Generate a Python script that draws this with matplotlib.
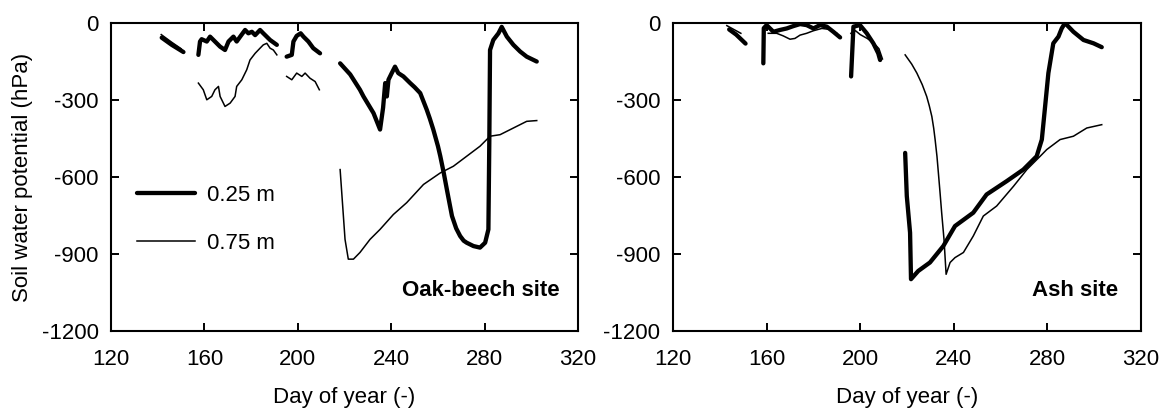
import numpy as np
import matplotlib
matplotlib.use("Agg")
import matplotlib.pyplot as plt

plt.rcParams["font.family"] = ["Liberation Sans", "DejaVu Sans"]
plt.rcParams["font.size"] = 16
plt.rcParams["axes.unicode_minus"] = False

# ---- Oak-beech site, 0.25 m (thick) ----
oak25_a_day = [141.7, 146.0, 151.0]
oak25_a_val = [-57, -85, -113]
oak25_b_day = [157.4, 158.1, 158.8, 161.0, 162.4, 164.5, 166.7, 168.8, 170.3, 172.4, 173.8, 175.3,
               177.4, 178.8, 180.3, 181.7, 183.8, 185.2, 188.1, 191.0]
oak25_b_val = [-124, -72, -63, -72, -53, -72, -92, -105, -72, -53, -72, -53,
               -27, -40, -34, -47, -27, -40, -66, -85]
oak25_c_day = [195.2, 197.4, 198.1, 199.5, 201.2, 202.4, 204.5, 206.6, 209.5]
oak25_c_val = [-131, -124, -72, -50, -40, -53, -72, -98, -118]
oak25_d_day = [218.1, 222.4, 226.6, 228.1, 232.4, 235.2, 236.5, 237.4, 238.1, 238.8, 240.2, 241.6,
               243.0, 245.2, 248.1, 250.0, 252.4, 254.0, 255.2, 256.5, 258.0, 260.0, 261.0,
               262.5, 263.8, 265.0, 266.0, 267.8, 269.5, 271.0, 272.3, 275.2, 278.0, 280.2,
               281.6, 282.0, 282.3, 283.7, 285.9, 287.3, 289.5, 292.3, 295.2, 298.0, 302.3]
oak25_d_val = [-157, -200, -260, -286, -351, -415, -330, -234, -286, -221, -195, -170,
               -195, -208, -234, -250, -273, -310, -338, -372, -415, -480, -519,
               -585, -648, -705, -752, -800, -830, -848, -856, -869, -875, -856,
               -804, -450, -105, -66, -40, -15, -53, -85, -111, -131, -150]

# ---- Oak-beech site, 0.75 m (thin) ----
oak75_a_day = [141.5, 146.0, 150.0]
oak75_a_val = [-45, -75, -100]
oak75_b_day = [157.4, 159.5, 161.0, 163.1, 164.5, 166.0, 166.7, 168.8, 171.0, 173.1, 173.8, 176.0,
               178.1, 179.5, 181.7, 183.8, 185.2, 186.7, 188.1, 189.5, 191.0]
oak75_b_val = [-234, -260, -299, -286, -260, -247, -286, -325, -312, -286, -247, -221,
               -182, -144, -118, -98, -85, -79, -98, -105, -124]
oak75_c_day = [195.2, 197.4, 199.5, 201.7, 203.1, 205.2, 207.4, 209.2]
oak75_c_val = [-208, -221, -195, -208, -195, -215, -228, -260]
oak75_d_day = [218.1, 220.2, 221.6, 223.8, 226.6, 230.9, 235.2, 240.9, 246.6, 253.8, 261.0,
               266.6, 272.3, 278.0, 282.3, 286.6, 292.3, 298.0, 302.3]
oak75_d_val = [-571, -843, -920, -920, -894, -843, -804, -746, -700, -629, -584,
               -558, -519, -480, -441, -435, -409, -383, -380]

# ---- Ash site, 0.25 m (thick) ----
ash25_a_day = [144.0, 147.0, 151.0]
ash25_a_val = [-25, -45, -80]
ash25_b_day = [158.6, 158.8, 160.0, 162.9, 165.7, 168.6, 171.4, 174.3, 177.1, 180.0, 182.8,
               185.7, 188.5, 191.4]
ash25_b_val = [-157, -20, -8, -34, -27, -21, -12, -4, -8, -21, -8,
               -14, -34, -56]
ash25_c_day = [196.1, 197.1, 199.9, 202.8, 205.6, 207.7, 208.5]
ash25_c_val = [-208, -14, -8, -40, -79, -118, -144]
ash25_d_day = [219.2, 219.9, 221.3, 221.7, 224.8, 229.8, 235.5, 240.5, 248.3, 254.0, 262.6,
               269.7, 275.4, 277.6, 279.0, 280.4, 282.5, 284.7, 286.1, 287.5, 291.1,
               295.4, 299.7, 303.2]
ash25_d_val = [-506, -674, -817, -998, -966, -933, -869, -791, -739, -668, -616,
               -571, -519, -454, -325, -195, -79, -53, -21, 0, -34,
               -66, -79, -94]

# ---- Ash site, 0.75 m (thin) ----
ash75_a_day = [143.0, 146.0, 149.0]
ash75_a_val = [-10, -25, -40]
ash75_b_day = [160.7, 164.3, 167.1, 170.0, 172.1, 174.3, 177.1, 180.0, 183.6, 187.1, 190.0]
ash75_b_val = [-40, -40, -50, -63, -60, -47, -40, -30, -21, -25, -40]
ash75_c_day = [196.0, 198.0, 200.0, 203.0, 206.0, 208.0, 209.5]
ash75_c_val = [-40, -30, -45, -60, -80, -100, -140]
ash75_d_day = [219.2, 222.0, 224.2, 226.5, 228.4, 229.5, 230.6, 231.4, 232.0, 232.8, 233.4,
               234.1, 234.8, 235.8, 236.7, 238.4, 240.5, 244.1, 248.3, 252.6, 258.3,
               265.5, 271.2, 276.9, 279.7, 285.4, 291.1, 296.8, 303.2]
ash75_d_val = [-124, -160, -195, -240, -286, -322, -364, -410, -454, -520, -584,
               -660, -739, -843, -979, -933, -914, -894, -830, -752, -713,
               -636, -571, -519, -493, -454, -441, -409, -396]

x_ticks = [120, 160, 200, 240, 280, 320]
y_ticks = [0, -300, -600, -900, -1200]


def join(*segs):
    # stitch segments together with NaN gaps
    out = []
    for s in segs:
        out += list(s) + [np.nan]
    return np.array(out[:-1], dtype=float)


oak25_x = join(oak25_a_day, oak25_b_day, oak25_c_day, oak25_d_day)
oak25_y = join(oak25_a_val, oak25_b_val, oak25_c_val, oak25_d_val)
oak75_x = join(oak75_a_day, oak75_b_day, oak75_c_day, oak75_d_day)
oak75_y = join(oak75_a_val, oak75_b_val, oak75_c_val, oak75_d_val)
ash25_x = join(ash25_a_day, ash25_b_day, ash25_c_day, ash25_d_day)
ash25_y = join(ash25_a_val, ash25_b_val, ash25_c_val, ash25_d_val)
ash75_x = join(ash75_a_day, ash75_b_day, ash75_c_day, ash75_d_day)
ash75_y = join(ash75_a_val, ash75_b_val, ash75_c_val, ash75_d_val)

fig = plt.figure(figsize=(11.69, 4.19), dpi=100)
ax1 = fig.add_axes([0.0950, 0.210, 0.3995, 0.735])
ax2 = fig.add_axes([0.5757, 0.210, 0.4004, 0.735])

for ax in (ax1, ax2):
    ax.set_xlim(120, 320)
    ax.set_ylim(-1200, 0)
    ax.set_xticks(x_ticks)
    ax.set_yticks(y_ticks)
    ax.tick_params(direction="in", length=6, width=1.4, top=True, right=True)
    ax.tick_params(axis="x", pad=13)
    ax.tick_params(axis="y", pad=9)
    for sp in ax.spines.values():
        sp.set_linewidth(1.5)
    ax.set_xlabel("Day of year (-)", labelpad=12)

ax1.plot(oak25_x, oak25_y, color="black", lw=3.1, solid_capstyle="round", label="0.25 m")
ax1.plot(oak75_x, oak75_y, color="black", lw=1.1, label="0.75 m")
ax2.plot(ash25_x, ash25_y, color="black", lw=3.1, solid_capstyle="round")
ax2.plot(ash75_x, ash75_y, color="black", lw=1.1)

ax1.set_ylabel("Soil water potential (hPa)", labelpad=6)
ax1.legend(loc="upper left", bbox_to_anchor=(0.036, 0.504), borderaxespad=0,
           frameon=False, handlelength=2.6, handletextpad=0.55, labelspacing=1.22)

ax1.text(0.961, 0.133, "Oak-beech site", transform=ax1.transAxes, ha="right",
         va="center", fontweight="bold")
ax2.text(0.951, 0.133, "Ash site", transform=ax2.transAxes, ha="right",
         va="center", fontweight="bold")

fig.savefig("out.png", dpi=100)
plt.close(fig)
